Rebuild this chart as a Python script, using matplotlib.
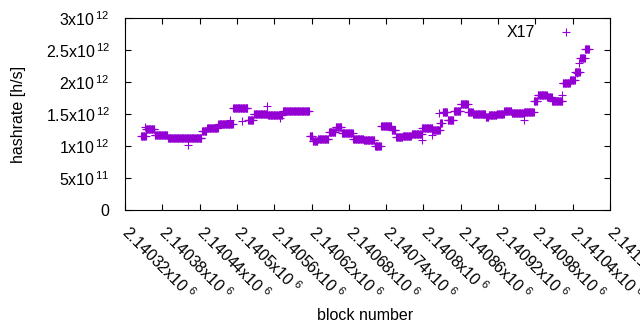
import numpy as np
import matplotlib
matplotlib.use("Agg")
import matplotlib.pyplot as plt

# hashrate estimate per block: each stretch starts at seg_start and holds seg_rate (x10^12 h/s)
seg_start = [2140346, 2140354, 2140368, 2140389, 2140423, 2140444, 2140452, 2140470,
             2140494, 2140518, 2140527, 2140550, 2140574, 2140582, 2140617, 2140622,
             2140630, 2140648, 2140659, 2140669, 2140687, 2140704, 2140722, 2140732,
             2140749, 2140756, 2140767, 2140781, 2140798, 2140815, 2140827, 2140831,
             2140839, 2140849, 2140860, 2140872, 2140880, 2140900, 2140905, 2140918,
             2140930, 2140942, 2140962, 2140978, 2140984, 2140999, 2141007, 2141024,
             2141036, 2141044, 2141052, 2141060]
seg_end = 2141067
seg_rate = [1.16, 1.27, 1.17, 1.12, 1.13, 1.23, 1.28, 1.34,
            1.59, 1.41, 1.50, 1.48, 1.54, 1.55, 1.16, 1.08,
            1.11, 1.22, 1.30, 1.20, 1.11, 1.09, 1.00, 1.31,
            1.25, 1.14, 1.16, 1.19, 1.28, 1.25, 1.36, 1.53,
            1.41, 1.55, 1.66, 1.53, 1.50, 1.45, 1.49, 1.50,
            1.55, 1.52, 1.53, 1.70, 1.80, 1.77, 1.70, 1.98,
            2.03, 2.15, 2.38, 2.52]

# stray single blocks
odd_block = [2140352, 2140421, 2140489, 2140508, 2140548, 2140569, 2140797,
             2140814, 2140825, 2140961, 2141023, 2141047, 2141050]
odd_rate = [1.30, 1.02, 1.41, 1.39, 1.62, 1.44, 1.09,
            1.17, 1.52, 1.41, 1.80, 2.14, 2.30]

xtick_vals = [2140320, 2140380, 2140440, 2140500, 2140560, 2140620, 2140680,
              2140740, 2140800, 2140860, 2140920, 2140980, 2141040, 2141100]
xtick_text = ["2.14032", "2.14038", "2.14044", "2.1405", "2.14056", "2.14062", "2.14068",
              "2.14074", "2.1408", "2.14086", "2.14092", "2.14098", "2.14104", "2.1411"]
ytick_vals = [0, 0.5e12, 1e12, 1.5e12, 2e12, 2.5e12, 3e12]
ytick_text = ["0", r"5x10$^{\,11}$", r"1x10$^{\,12}$", r"1.5x10$^{\,12}$",
              r"2x10$^{\,12}$", r"2.5x10$^{\,12}$", r"3x10$^{\,12}$"]

lengths = np.diff(seg_start + [seg_end])
blocks = np.arange(seg_start[0], seg_end)
rates = np.repeat(seg_rate, lengths)
x = np.concatenate([blocks, odd_block])
y = np.concatenate([rates, odd_rate]) * 1e12

plt.rcParams['font.family'] = ['Liberation Sans', 'DejaVu Sans']
plt.rcParams['font.size'] = 11.5
plt.rcParams['mathtext.fontset'] = 'custom'
plt.rcParams['mathtext.rm'] = 'Liberation Sans'
plt.rcParams['mathtext.default'] = 'regular'

fig = plt.figure(figsize=(6.4, 3.3), dpi=100)
ax = fig.add_axes([125/640, 120/330, 485/640, 192/330])

ax.plot(x, y, '+', color='#9400d3', ms=5.2, mew=0.8, label='X17')

ax.set_xlim(2140320, 2141100)
ax.set_ylim(0, 3e12)
ax.set_xticks(xtick_vals)
ax.set_xticklabels([t + r"x10$^{\,\,6}$" for t in xtick_text],
                   rotation=-45, ha='left', va='center', rotation_mode='anchor')
ax.set_yticks(ytick_vals)
ax.set_yticklabels(ytick_text)
ax.tick_params(direction='in', length=4, width=0.8, top=True, right=True)
ax.tick_params(axis='x', pad=14)
ax.tick_params(axis='y', pad=11)
for s in ax.spines.values():
    s.set_linewidth(0.8)

ax.set_xlabel('block number')
ax.xaxis.set_label_coords(0.495, -0.51)
ax.set_ylabel('hashrate [h/s]')
ax.yaxis.set_label_coords(-0.205, 0.5)

ax.legend(loc='upper right', frameon=False, markerfirst=False,
          handlelength=2.0, handletextpad=1.0, borderaxespad=0.2, borderpad=0.4,
          bbox_to_anchor=(0.963, 1.012))

fig.savefig('out.png', dpi=100)
